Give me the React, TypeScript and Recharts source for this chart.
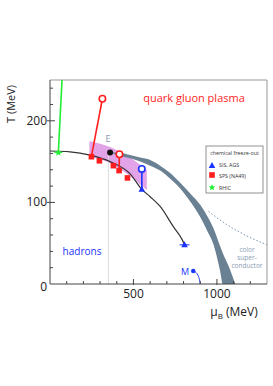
import {
  Area, ComposedChart, Line, ReferenceLine, Scatter, XAxis, YAxis,
} from 'recharts'

// chemical freeze-out points (muB MeV, T MeV)
const spsSquares = [
  { mu: 248, T: 156 }, { mu: 296, T: 151 }, { mu: 380, T: 145 }, { mu: 414, T: 139 }, { mu: 464, T: 130 },
]
const sisTriangles = [{ mu: 550, T: 116 }, { mu: 806, T: 48 }]
const rhicStar = [{ mu: 50, T: 161 }]
const endPointE = [{ mu: 360, T: 161 }]
const pointM = [{ mu: 858, T: 16 }]
const openRed = [{ mu: 314, T: 227 }, { mu: 416, T: 159 }]
const openBlue = [{ mu: 550, T: 141 }]

const rhicLine = [{ mu: 50, T: 161 }, { mu: 72, T: 250 }]
const redLineA = [{ mu: 248, T: 156 }, { mu: 314, T: 227 }]
const redLineB = [{ mu: 414, T: 139 }, { mu: 416, T: 159 }]
const blueLine = [{ mu: 550, T: 116 }, { mu: 550.5, T: 141 }]

const freezeOutCurve = [
  { mu: 0, T: 163 }, { mu: 120, T: 162 }, { mu: 240, T: 158 }, { mu: 360, T: 150 }, { mu: 480, T: 135 },
  { mu: 550, T: 116 }, { mu: 600, T: 107 }, { mu: 660, T: 95 }, { mu: 740, T: 70 }, { mu: 790, T: 55 }, { mu: 806, T: 48 },
]
const mCurve = [{ mu: 858, T: 16 }, { mu: 875, T: 14 }, { mu: 890, T: 9 }, { mu: 898, T: 3 }, { mu: 900, T: 0 }]
const superconductorLine = [{ mu: 950, T: 89 }, { mu: 1050, T: 74 }, { mu: 1150, T: 62 }, { mu: 1300, T: 48 }]
const eLine = [{ mu: 350, T: 0 }, { mu: 350, T: 161 }]

// first-order transition band [lower, upper]
const transitionBand = [
  { mu: 360, band: [161, 161] }, { mu: 400, band: [158, 161] }, { mu: 480, band: [154, 158] },
  { mu: 540, band: [150, 155] }, { mu: 600, band: [145, 152] }, { mu: 660, band: [139, 145] },
  { mu: 720, band: [129, 136] }, { mu: 780, band: [117, 124] }, { mu: 840, band: [101, 111] },
  { mu: 900, band: [82, 97] }, { mu: 940, band: [66, 84] }, { mu: 980, band: [48, 68] },
  { mu: 1020, band: [15, 46] }, { mu: 1035, band: [0, 38] }, { mu: 1070, band: [0, 22] }, { mu: 1110, band: [0, 0] },
]
// pink uncertainty region
const pinkBand = [
  { mu: 236, band: [155, 175] }, { mu: 300, band: [153, 172] }, { mu: 360, band: [148, 168] },
  { mu: 420, band: [141, 162] }, { mu: 480, band: [132, 155] }, { mu: 540, band: [122, 146] }, { mu: 580, band: [115, 140] },
]

const xTicks = [0, 100, 200, 300, 400, 500, 600, 700, 800, 900, 1000, 1100, 1200, 1300]
const yTicks = [0, 20, 40, 60, 80, 100, 120, 140, 160, 180, 200, 220, 240]

const font = '"Open Sans", sans-serif'
const axisColor = '#444'
const red = '#ff1e1e'
const blue = '#1a33ff'
const green = '#22ee33'
const bandColor = '#6a8194'

function YTick({ x, y, payload }: any) {
  const v = payload.value
  const major = v % 100 === 0
  return <g>
    {v > 0 && <line x1={major ? x - 3 : x} x2={x + (major ? 5 : 3)} y1={y} y2={y} stroke={axisColor} />}
    {major && <text x={x - 3} y={y} dy={v === 0 ? 7 : 4} textAnchor="end" fontSize={12} fontFamily={font} fill="#222">{v}</text>}
  </g>
}

function XTick({ x, y, payload }: any) {
  const v = payload.value
  const major = v % 500 === 0
  return <g>
    {v > 0 && v < 1300 && <line x1={x} x2={x} y1={major ? y + 1 : y} y2={y - (major ? 5 : 3)} stroke={axisColor} />}
    {major && v > 0 && <text x={x} y={y} dy={14} textAnchor="middle" fontSize={12} fontFamily={font} fill="#222">{v}</text>}
  </g>
}

const square = ({ cx, cy }: any) => <rect x={cx - 2.8} y={cy - 2.8} width={5.6} height={5.6} fill={red} />
const triangle = ({ cx, cy }: any) => <path d={`M${cx},${cy - 3.5}L${cx + 3.3},${cy + 2.5}L${cx - 3.3},${cy + 2.5}Z`} fill={blue} />
const triangleErr = ({ cx, cy }: any) => <g>
  <line x1={cx - 5} x2={cx + 5} y1={cy} y2={cy} stroke={blue} />
  <path d={`M${cx},${cy - 3.5}L${cx + 3.3},${cy + 2.5}L${cx - 3.3},${cy + 2.5}Z`} fill={blue} />
</g>
function starPath(cx: number, cy: number, r: number) {
  const pts: string[] = []
  for (let i = 0; i < 10; i++) {
    const a = -Math.PI / 2 + (i * Math.PI) / 5
    const rr = i % 2 === 0 ? r : r * 0.45
    pts.push(`${cx + rr * Math.cos(a)},${cy + rr * Math.sin(a)}`)
  }
  return `M${pts.join('L')}Z`
}
const star = ({ cx, cy }: any) => <g>
  <line x1={cx - 4} x2={cx + 4} y1={cy} y2={cy} stroke={green} />
  <path d={starPath(cx, cy, 3.8)} fill={green} />
</g>
const openCircle = (color: string) => ({ cx, cy }: any) => <circle cx={cx} cy={cy} r={3.2} fill="#fff" stroke={color} strokeWidth={1.6} />
const dot = (color: string, r: number) => ({ cx, cy }: any) => <circle cx={cx} cy={cy} r={r} fill={color} />

export default function App() {
  return <div style={{ position: 'absolute', left: 0, top: 0, width: 273, height: 386, background: '#fff' }}>
    <ComposedChart width={273} height={386} margin={{ top: 80, right: 6, bottom: 72, left: 0 }}>
      <XAxis type="number" dataKey="mu" domain={[0, 1300]} ticks={xTicks} interval={0} allowDataOverflow
        tickSize={0} tickMargin={0} tickLine={false} tick={<XTick />} stroke={axisColor} height={30} />
      <YAxis type="number" dataKey="T" domain={[0, 250]} ticks={yTicks} interval={0} allowDataOverflow
        tickSize={0} tickMargin={0} tickLine={false} tick={<YTick />} stroke={axisColor} width={50} />
      <ReferenceLine y={250} stroke="#999" />
      <ReferenceLine x={1300} stroke="#999" />
      <Line data={eLine} dataKey="T" stroke="#dcdcdc" strokeWidth={1} dot={false} isAnimationActive={false} />
      <Area data={pinkBand} dataKey="band" type="monotone" stroke="none" fill="#e3a3e8" fillOpacity={1} isAnimationActive={false} />
      <Area data={transitionBand} dataKey="band" type="monotone" stroke="none" fill={bandColor} fillOpacity={1} isAnimationActive={false} />
      <Line data={superconductorLine} dataKey="T" type="monotone" stroke="#7e95aa" strokeWidth={1} strokeDasharray="1.5 2" dot={false} isAnimationActive={false} />
      <Line data={freezeOutCurve} dataKey="T" type="monotone" stroke="#333" strokeWidth={1.2} dot={false} isAnimationActive={false} />
      <Line data={mCurve} dataKey="T" type="monotone" stroke={blue} strokeWidth={1} dot={false} isAnimationActive={false} />
      <Line data={rhicLine} dataKey="T" stroke={green} strokeWidth={1.6} dot={false} isAnimationActive={false} />
      <Line data={redLineA} dataKey="T" stroke={red} strokeWidth={1.6} dot={false} isAnimationActive={false} />
      <Line data={redLineB} dataKey="T" stroke={red} strokeWidth={1.6} dot={false} isAnimationActive={false} />
      <Line data={blueLine} dataKey="T" stroke={blue} strokeWidth={1.6} dot={false} isAnimationActive={false} />
      <Scatter data={spsSquares} dataKey="T" shape={square} isAnimationActive={false} />
      <Scatter data={sisTriangles.slice(0, 1)} dataKey="T" shape={triangle} isAnimationActive={false} />
      <Scatter data={sisTriangles.slice(1)} dataKey="T" shape={triangleErr} isAnimationActive={false} />
      <Scatter data={rhicStar} dataKey="T" shape={star} isAnimationActive={false} />
      <Scatter data={openRed} dataKey="T" shape={openCircle(red)} isAnimationActive={false} />
      <Scatter data={openBlue} dataKey="T" shape={openCircle(blue)} isAnimationActive={false} />
      <Scatter data={endPointE} dataKey="T" shape={dot('#111', 3)} isAnimationActive={false} />
      <Scatter data={pointM} dataKey="T" shape={dot(blue, 2.2)} isAnimationActive={false} />
    </ComposedChart>
    <svg width={273} height={386} style={{ position: 'absolute', left: 0, top: 0, pointerEvents: 'none' }} fontFamily={font}>
      <text x={194} y={102} textAnchor="middle" fontSize={11} fill={red}>quark gluon plasma</text>
      <text x={82} y={255} textAnchor="middle" fontSize={10} fill={blue}>hadrons</text>
      <text x={108} y={142} textAnchor="middle" fontSize={9} fill="#8a9bb0">E</text>
      <text x={185} y={275} textAnchor="middle" fontSize={9} fill={blue}>M</text>
      <g fontSize={6.5} fill="#8a9bb0" textAnchor="middle">
        <text x={247} y={252}>color</text>
        <text x={247} y={260}>super-</text>
        <text x={247} y={268}>conductor</text>
      </g>
      <text transform="translate(15,104) rotate(-90)" textAnchor="middle" fontSize={11} fill="#222">T (MeV)</text>
      <text x={234} y={316} textAnchor="middle" fontSize={12} fill="#222">μ<tspan fontSize={8} dy={3}>B</tspan><tspan dy={-3}> (MeV)</tspan></text>
      <g>
        <rect x={206} y={146} width={57} height={47} fill="#fff" stroke="#777" strokeWidth={0.8} />
        <text x={234.5} y={155} textAnchor="middle" fontSize={5.3} fill="#333">chemical freeze-out</text>
        <path d="M212,162L215.3,168L208.7,168Z" fill={blue} />
        <text x={219} y={167} fontSize={5.3} fill="#333">SIS, AGS</text>
        <rect x={209.2} y={172.2} width={5.6} height={5.6} fill={red} />
        <text x={219} y={177.5} fontSize={5.3} fill="#333">SPS (NA49)</text>
        <path d={starPath(212, 187.5, 3.5)} fill={green} />
        <text x={219} y={189.5} fontSize={5.3} fill="#333">RHIC</text>
      </g>
    </svg>
  </div>
}
